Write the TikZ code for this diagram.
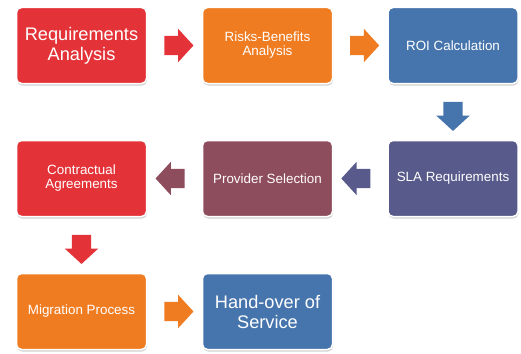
\documentclass[tikz,border=0pt]{standalone}
\usepackage{fontspec}
\setmainfont{Liberation Sans}
\usetikzlibrary{positioning, shapes.arrows, shadows, calc}

\definecolor{phasered}{HTML}{E43338}
\definecolor{phaseorange}{HTML}{F07C22}
\definecolor{phaseblue}{HTML}{4674AC}
\definecolor{phaseslate}{HTML}{575A8A}
\definecolor{phasewine}{HTML}{8E4D5D}

\begin{document}
\begin{tikzpicture}[
        x=1pt, y=-1pt,
        phase/.style={rectangle, rounded corners=5pt, draw=white, line width=1.5pt, minimum width=130pt, minimum height=76pt, inner sep=2pt, align=center, text=white, font=\fontsize{13.4}{14}\selectfont, drop shadow={shadow xshift=0.5pt, shadow yshift=-2pt, fill=black!40, opacity=0.45}},
        bigphase/.style={phase, font=\fontsize{18.2}{20}\selectfont},
        flow/.style={single arrow, minimum width=33pt, minimum height=29pt, single arrow head extend=7pt, single arrow tip angle=95, inner sep=9.5pt, draw=none}
    ]
    \useasboundingbox (0,0) rectangle (521,353);

    % Phases, row by row
    \node[bigphase, fill=phasered] (req) at (81.5, 45.5) {Requirements\\Analysis};
    \node[phase, fill=phaseorange] (risk) at (267.5, 45.5) {Risks-Benefits\\Analysis};
    \node[phase, fill=phaseblue] (roi) at (453, 45.5) {ROI Calculation};

    \node[phase, fill=phaseslate] (sla) at (453, 178.5) {SLA Requirements};
    \node[phase, fill=phasewine] (prov) at (267.5, 178.5) {Provider Selection};
    \node[phase, fill=phasered] (contr) at (81.5, 178.5) {Contractual\\Agreements};

    \node[phase, fill=phaseorange] (migr) at (81.5, 311.5) {Migration Process};
    \node[bigphase, fill=phaseblue] (hand) at (267.5, 311.5) {Hand-over of\\Service};

    % Block arrows between the phases
    \foreach \from/\to/\colour/\dir in {req/risk/phasered/0, risk/roi/phaseorange/0, roi/sla/phaseblue/270, sla/prov/phaseslate/180, prov/contr/phasewine/180, contr/migr/phasered/270, migr/hand/phaseorange/0} {
        \node[flow, fill=\colour, shape border rotate=\dir] (\from-\to) at ($(\from)!0.5!(\to)$) {};
    }
\end{tikzpicture}
\end{document}
